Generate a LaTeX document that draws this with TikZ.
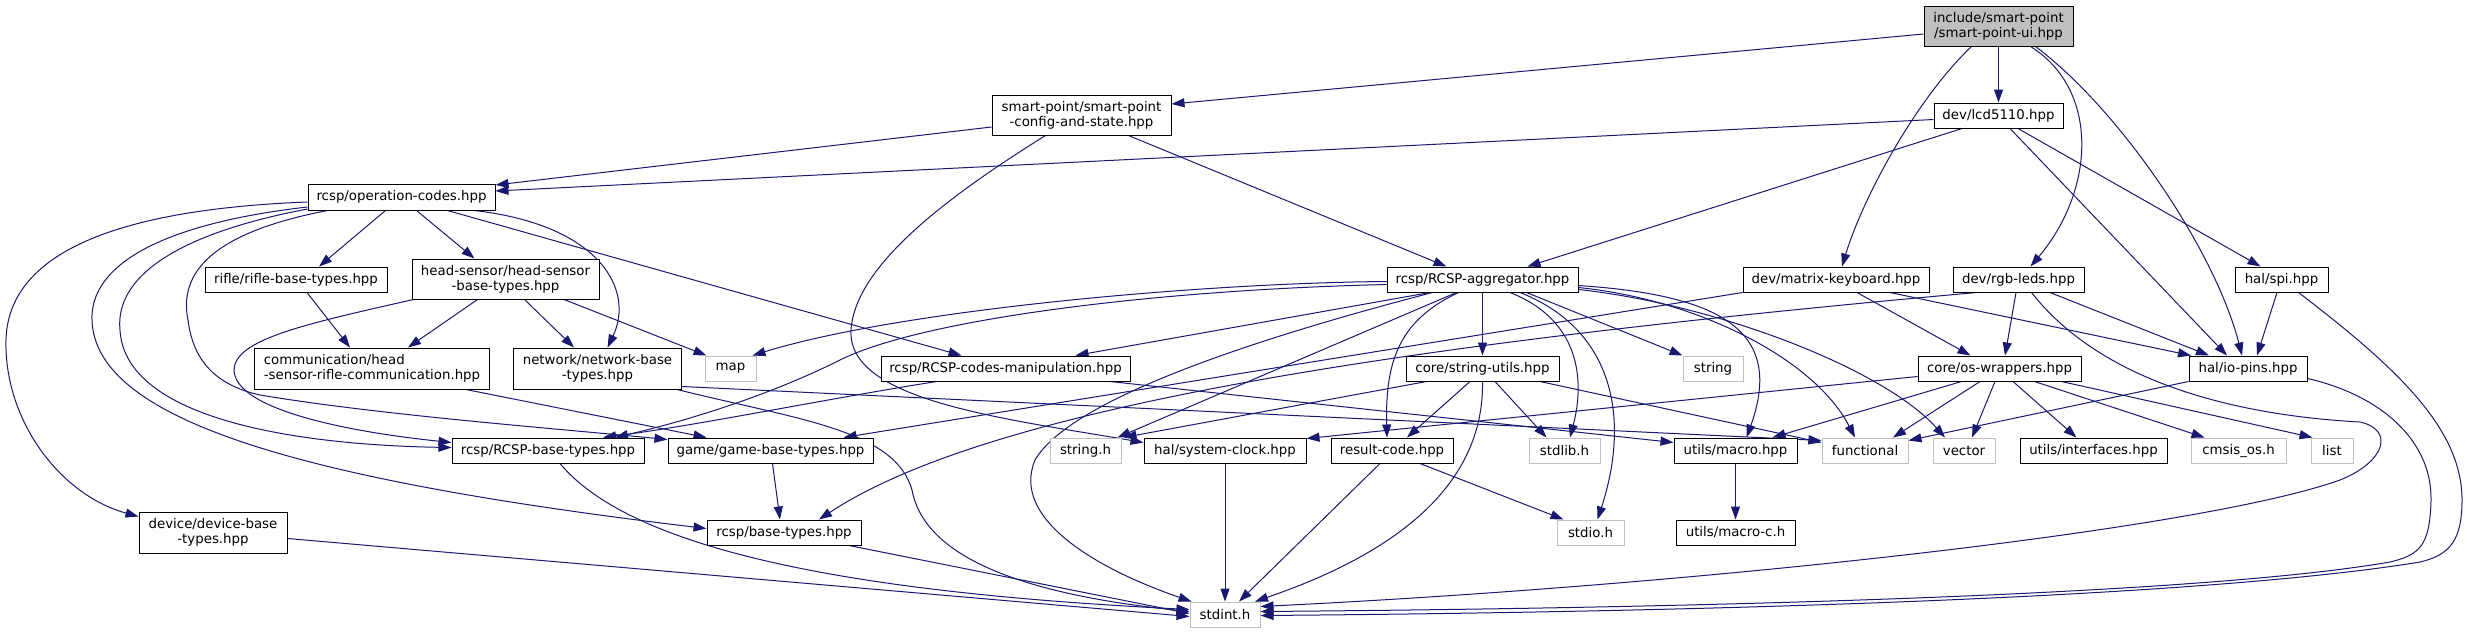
\documentclass[tikz,border=0pt]{standalone}
\usepackage{fontspec}
\setmainfont{DejaVu Sans}
\usetikzlibrary{arrows.meta,calc}
\definecolor{edgeblue}{HTML}{191970}
\definecolor{sysgray}{HTML}{BFBFBF}
\pgfdeclarelayer{bgfill}
\pgfdeclarelayer{edges}
\pgfsetlayers{bgfill,edges,main}
\begin{document}
\begin{tikzpicture}[x=1pt,y=-1pt,
 hdr/.style={draw=black, fill=white, line width=1pt, inner sep=0pt, align=center, font=\fontsize{13.33}{15.3}\selectfont, minimum height=25pt},
 syshdr/.style={hdr, draw=sysgray},
 roothdr/.style={hdr, fill=sysgray},
 tall/.style={minimum height=40pt},
 dep/.style={draw=edgeblue, line width=1pt, -{Triangle[length=13pt,width=9pt]}}]
\begin{pgfonlayer}{bgfill}
\fill[white] (0,0) rectangle (2467,633);
\end{pgfonlayer}
\useasboundingbox (0,0) rectangle (2467,633);

% row 1-2
\node[roothdr, tall, minimum width=149pt] (ui) at (1998.5,26) {include/smart-point\\/smart-point-ui.hpp};
\node[hdr, tall, minimum width=179pt] (cfg) at (1081.5,115) {smart-point/smart-point\\-config-and-state.hpp};
\node[hdr, minimum width=129pt] (lcd) at (1998.5,115.5) {dev/lcd5110.hpp};
\node[hdr, minimum width=187pt, minimum height=26pt] (op) at (401.5,197) {rcsp/operation-codes.hpp};
% row 279
\node[hdr, minimum width=182pt] (rifle) at (296,279.5) {rifle/rifle-base-types.hpp};
\node[hdr, tall, minimum width=187pt] (head) at (505.5,279) {head-sensor/head-sensor\\-base-types.hpp};
\node[hdr, minimum width=191pt] (agg) at (1482.5,279.5) {rcsp/RCSP-aggregator.hpp};
\node[hdr, minimum width=186pt] (mkb) at (1836,279.5) {dev/matrix-keyboard.hpp};
\node[hdr, minimum width=131pt] (rgb) at (2018.5,279.5) {dev/rgb-leds.hpp};
\node[hdr, minimum width=93pt] (spi) at (2281.5,279.5) {hal/spi.hpp};
% row 368
\node[hdr, minimum width=235pt, minimum height=41pt, align=left] (comm) at (372,368.5) {communication/head\\-sensor-rifle-communication.hpp};
\node[hdr, minimum width=168pt, minimum height=41pt] (net) at (597.5,368.5) {network/network-base\\-types.hpp};
\node[syshdr, minimum width=51pt] (map) at (730.5,368.5) {map};
\node[hdr, minimum width=249pt] (cman) at (1005.5,368.5) {rcsp/RCSP-codes-manipulation.hpp};
\node[hdr, minimum width=153pt] (su) at (1482.5,368.5) {core/string-utils.hpp};
\node[syshdr, minimum width=60pt] (string) at (1713,368.5) {string};
\node[hdr, minimum width=163pt] (osw) at (1999.5,368.5) {core/os-wrappers.hpp};
\node[hdr, minimum width=118pt] (iop) at (2248,368.5) {hal/io-pins.hpp};
% row 450
\node[hdr, minimum width=192pt] (rbase) at (548,450.5) {rcsp/RCSP-base-types.hpp};
\node[hdr, minimum width=205pt] (game) at (770.5,450.5) {game/game-base-types.hpp};
\node[syshdr, minimum width=71pt] (strh) at (1085.5,450.5) {string.h};
\node[hdr, minimum width=162pt] (sclk) at (1225,450.5) {hal/system-clock.hpp};
\node[hdr, minimum width=122pt] (rc) at (1392,450.5) {result-code.hpp};
\node[syshdr, minimum width=71pt] (stdlib) at (1564.5,450.5) {stdlib.h};
\node[hdr, minimum width=123pt] (macro) at (1735.5,450.5) {utils/macro.hpp};
\node[syshdr, minimum width=86pt] (func) at (1865,450.5) {functional};
\node[syshdr, minimum width=62pt] (vector) at (1964,450.5) {vector};
\node[hdr, minimum width=147pt] (ifc) at (2093.5,450.5) {utils/interfaces.hpp};
\node[syshdr, minimum width=95pt] (cmsis) at (2238.5,450.5) {cmsis\_os.h};
\node[syshdr, minimum width=42pt] (list) at (2332,450.5) {list};
% row 532
\node[hdr, minimum width=148pt, minimum height=41pt] (dev) at (213,532.5) {device/device-base\\-types.hpp};
\node[hdr, minimum width=154pt] (base) at (784,532.5) {rcsp/base-types.hpp};
\node[syshdr, minimum width=67pt] (stdio) at (1590.5,532.5) {stdio.h};
\node[hdr, minimum width=119pt] (mc) at (1735.5,532.5) {utils/macro-c.h};
% bottom
\node[syshdr, minimum width=70pt] (stdint) at (1225,614.5) {stdint.h};

\begin{pgfonlayer}{edges}
% ui
\draw[dep] ($(ui.west)+(0,8)$) -- ($(cfg.east)+(0,-11)$);
\draw[dep] (ui.south) -- (lcd.north);
\draw[dep] ($(ui.south)+(-27,0)$) .. controls (1915,100) and (1862,200) .. ($(mkb.north)+(6,0)$);
\draw[dep] ($(ui.south)+(32,0)$) .. controls (2100,90) and (2095,190) .. ($(rgb.north)+(12,0)$);
\draw[dep] ($(ui.south)+(37,0)$) .. controls (2120,110) and (2215,250) .. ($(iop.north)+(-6,0)$);
% cfg
\draw[dep] ($(cfg.west)+(0,12)$) -- ($(op.east)+(0,-12)$);
\draw[dep] ($(cfg.south)+(47,0)$) -- ($(agg.north)+(-36,0)$);
\draw[dep] ($(cfg.south)+(-36,0)$) .. controls (950,195) and (855,265) .. (851,330) .. controls (847,400) and (1000,418) .. ($(sclk.west)+(0,-8)$);
% lcd
\draw[dep] ($(lcd.west)+(0,4)$) -- ($(op.east)+(0,-6)$);
\draw[dep] ($(lcd.south)+(-36.5,0)$) -- ($(agg.north)+(45,0)$);
\draw[dep] ($(lcd.south)+(11.5,0)$) -- ($(iop.north)+(-21,0)$);
\draw[dep] ($(lcd.south)+(19.5,0)$) -- ($(spi.north)+(-21,0)$);
% op
\draw[dep] ($(op.south)+(-16,0)$) -- ($(rifle.north)+(23,0)$);
\draw[dep] ($(op.south)+(15,0)$) -- ($(head.north)+(-31,0)$);
\draw[dep] ($(op.south)+(46,0)$) -- ($(cman.north)+(-44,0)$);
\draw[dep] ($(op.south)+(73,0)$) .. controls (600,225) and (635,290) .. ($(net.north)+(10,0)$);
\draw[dep] ($(op.west)+(0,5)$) .. controls (100,210) and (8,260) .. (6,340) .. controls (4,420) and (60,495) .. ($(dev.west)+(0,-16)$);
\draw[dep] ($(op.west)+(0,10)$) .. controls (150,225) and (90,270) .. (92,320) .. controls (95,420) and (300,480) .. ($(base.west)+(0,-4)$);
\draw[dep] ($(op.west)+(0,12)$) .. controls (170,235) and (115,280) .. (120,330) .. controls (125,420) and (300,445) .. ($(rbase.west)+(0,-3)$);
\draw[dep] ($(op.south west)+(20,0)$) .. controls (200,235) and (180,280) .. (188,320) .. controls (193,360) and (215,385) .. (260,395) .. controls (380,415) and (550,428) .. ($(game.north west)+(0,2)$);
% head
\draw[dep] ($(head.south)+(-28,0)$) -- ($(comm.north)+(36,0)$);
\draw[dep] ($(head.south)+(19,0)$) -- ($(net.north)+(-23.5,0)$);
\draw[dep] ($(head.south)+(58.5,0)$) -- ($(map.north west)+(2,0)$);
\draw[dep] ($(head.south west)+(2,0)$) .. controls (300,325) and (235,340) .. (234,370) .. controls (235,410) and (350,432) .. ($(rbase.west)+(0,-8)$);
% rifle, comm
\draw[dep] ($(rifle.south)+(11,0)$) -- ($(comm.north)+(-22,0)$);
\draw[dep] ($(comm.south)+(94,0)$) -- ($(game.north)+(-64,0)$);
% net
\draw[dep] ($(net.south east)+(-5,0)$) .. controls (800,420) and (895,430) .. (912,490) .. controls (925,560) and (1030,595) .. ($(stdint.west)+(0,-3)$);
\draw[dep] ($(net.east)+(0,18)$) -- ($(func.west)+(0,-10)$);
% cman
\draw[dep] ($(cman.south)+(-69,0)$) .. controls (820,400) and (700,425) .. ($(rbase.north)+(55,0)$);
\draw[dep] ($(cman.south)+(104.5,0)$) -- ($(macro.west)+(0,-8)$);
% rbase, game, base, dev
\draw[dep] ($(rbase.south)+(12,0)$) .. controls (640,560) and (900,595) .. ($(stdint.west)+(0,-5)$);
\draw[dep] ($(game.south)+(2,0)$) -- ($(base.north)+(-4,0)$);
\draw[dep] ($(base.south)+(65,0)$) -- ($(stdint.west)+(0,-1)$);
\draw[dep] ($(dev.east)+(0,6)$) -- ($(stdint.west)+(0,2)$);
% sclk, rc, su
\draw[dep] (sclk.south) -- (stdint.north);
\draw[dep] ($(rc.south)+(-12,0)$) -- ($(stdint.north)+(14,0)$);
\draw[dep] ($(rc.south)+(28,0)$) -- ($(stdio.north)+(-27,0)$);
\draw[dep] ($(su.south)+(-12.5,0)$) -- ($(rc.north)+(15,0)$);
\draw[dep] ($(su.south)+(12.5,0)$) -- ($(stdlib.north)+(-18,0)$);
\draw[dep] (su.south) .. controls (1484,470) and (1420,545) .. ($(stdint.north)+(30,0)$);
\draw[dep] ($(su.south)+(-56,0)$) -- ($(strh.north east)+(2,0)$);
\draw[dep] ($(su.south)+(57.5,0)$) -- ($(func.west)+(0,-8)$);
% agg
\draw[dep] ($(agg.west)+(0,2)$) .. controls (1200,283) and (900,310) .. ($(map.north east)+(-4,0)$);
\draw[dep] ($(agg.west)+(0,5)$) .. controls (1150,290) and (920,320) .. (840,360) .. controls (770,395) and (690,420) .. ($(rbase.north)+(67,0)$);
\draw[dep] ($(agg.south)+(-52.5,0)$) -- ($(cman.north)+(70,0)$);
\draw[dep] ($(agg.south)+(-50,0)$) .. controls (1250,340) and (1070,400) .. (1035,460) .. controls (1010,520) and (1100,570) .. ($(stdint.north west)+(2,0)$);
\draw[dep] ($(agg.south)+(-26,0)$) -- ($(strh.north east)+(-4,0)$);
\draw[dep] ($(agg.south)+(-24,0)$) .. controls (1400,320) and (1385,360) .. ($(rc.north)+(-5,0)$);
\draw[dep] (agg.south) -- (su.north);
\draw[dep] ($(agg.south)+(27.5,0)$) .. controls (1580,320) and (1585,380) .. ($(stdlib.north)+(5.5,0)$);
\draw[dep] ($(agg.south)+(37.5,0)$) .. controls (1615,330) and (1630,420) .. ($(stdio.north)+(7,0)$);
\draw[dep] ($(agg.south)+(44,0)$) -- (string.north west);
\draw[dep] ($(agg.east)+(0,6)$) .. controls (1720,295) and (1785,330) .. ($(macro.north)+(11,0)$);
\draw[dep] ($(agg.east)+(0,8)$) .. controls (1700,300) and (1815,360) .. ($(func.north)+(-10,0)$);
\draw[dep] ($(agg.east)+(0,10)$) .. controls (1720,305) and (1885,370) .. ($(vector.north)+(-19,0)$);
% mkb
\draw[dep] (mkb.south west) -- ($(game.north east)+(-30,0)$);
\draw[dep] ($(mkb.south)+(21,0)$) -- ($(osw.north)+(-29,0)$);
\draw[dep] ($(mkb.south)+(54,0)$) -- ($(iop.north)+(-57,0)$);
% rgb
\draw[dep] ($(rgb.south)+(-42,0)$) .. controls (1450,340) and (1000,400) .. ($(base.north)+(35,0)$);
\draw[dep] ($(rgb.south)+(-2.5,0)$) -- ($(osw.north)+(5.5,0)$);
\draw[dep] ($(rgb.south)+(31.5,0)$) -- ($(iop.north)+(-39,0)$);
\draw[dep] ($(rgb.south)+(13,0)$) .. controls (2100,380) and (2230,415) .. (2360,422) .. controls (2395,430) and (2385,462) .. (2340,480) .. controls (2200,530) and (1700,585) .. ($(stdint.east)+(0,-8)$);
% spi
\draw[dep] ($(spi.south)+(-4.5,0)$) -- ($(iop.north)+(9,0)$);
\draw[dep] ($(spi.south)+(17,0)$) .. controls (2400,370) and (2462,430) .. (2462,500) .. controls (2462,540) and (2450,555) .. (2420,562) .. controls (2200,598) and (1700,612) .. ($(stdint.east)+(0,1)$);
% iop
\draw[dep] ($(iop.east)+(0,10)$) .. controls (2380,395) and (2432,440) .. (2431,500) .. controls (2430,545) and (2420,555) .. (2390,562) .. controls (2200,595) and (1700,608) .. ($(stdint.east)+(0,-3)$);
\draw[dep] (iop.south west) -- ($(func.east)+(0,-10)$);
% osw
\draw[dep] ($(osw.west)+(0,8)$) -- ($(sclk.north east)+(0,1)$);
\draw[dep] ($(osw.south)+(-38,0)$) -- ($(macro.north)+(37,0)$);
\draw[dep] ($(osw.south)+(-19.5,0)$) -- ($(func.north)+(28,0)$);
\draw[dep] ($(osw.south)+(-4.5,0)$) -- ($(vector.north)+(8,0)$);
\draw[dep] ($(osw.south)+(13.5,0)$) -- ($(ifc.north)+(-17,0)$);
\draw[dep] ($(osw.south)+(35,0)$) -- ($(cmsis.north)+(-34,0)$);
\draw[dep] ($(osw.south)+(62,0)$) -- ($(list.north west)+(2,0)$);
% macro
\draw[dep] (macro.south) -- (mc.north);
\end{pgfonlayer}
\end{tikzpicture}
\end{document}
